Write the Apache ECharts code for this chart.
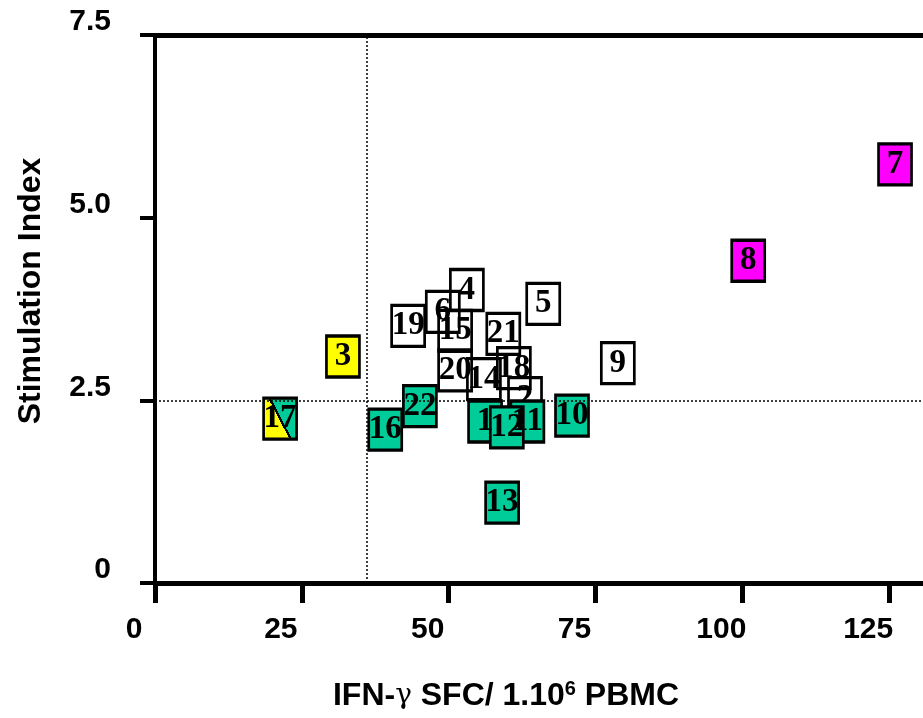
<!DOCTYPE html>
<html>
<head>
<meta charset="utf-8">
<script src="https://cdn.jsdelivr.net/npm/echarts@6/dist/echarts.min.js"></script>
<style>
  html, body { margin: 0; padding: 0; background: #fff; }
  #chart { width: 923px; height: 718px; }
</style>
</head>
<body>
<div id="chart"></div>
<script>
// patient ids, IFN-g spots and stimulation index
var ids   = ['1', '2', '3', '4', '5', '6', '7', '8', '9', '10', '11',
             '12', '13', '14', '15', '16', '17', '18', '19', '20', '21', '22']
var sfc   = [56.2, 63.0, 32.0, 53.1, 66.1, 49.0, 126.0, 101.0, 78.8, 71.0, 63.4,
             59.9, 59.1, 56.0, 51.1, 39.2, 21.3, 61.1, 43.1, 51.1, 59.3, 45.1]
var si    = [2.21, 2.53, 3.10, 4.01, 3.82, 3.71, 5.73, 4.41, 3.01, 2.29, 2.21,
             2.13, 1.10, 2.79, 3.45, 2.10, 2.25, 2.94, 3.52, 2.91, 3.41, 2.42]
var group = ['teal', 'white', 'yellow', 'white', 'white', 'white', 'magenta', 'magenta', 'white', 'teal', 'teal',
             'teal', 'teal', 'white', 'white', 'teal', 'split', 'white', 'white', 'white', 'white', 'teal']

var xTicks = [0, 25, 50, 75, 100, 125]
var yTicks = [0, 2.5, 5.0, 7.5]
var sfcCutoff = 36
var siCutoff = 2.5

var teal = '#00CC99'

function pick (g) {
  var res = []
  for (var i = 0; i < ids.length; i++) {
    if (group[i] === g) res.push({ name: ids[i], value: [sfc[i], si[i]] })
  }
  return res
}

// box 17 is half yellow / half green with a black diagonal
var splitFill = {
  type: 'linear', x: -0.12, y: 0.9, x2: 1.12, y2: 0.1,
  colorStops: [
    { offset: 0, color: '#FFFF00' }, { offset: 0.48, color: '#FFFF00' },
    { offset: 0.48, color: '#000' }, { offset: 0.52, color: '#000' },
    { offset: 0.52, color: teal }, { offset: 1, color: teal }
  ]
}

function boxSeries (name, fill, z) {
  return {
    name: name,
    type: 'scatter',
    symbol: 'rect',
    symbolSize: [33, 41],
    z: z,
    itemStyle: { color: fill, borderColor: '#000', borderWidth: 3, opacity: 1 },
    label: {
      show: true,
      position: 'inside',
      formatter: '{b}',
      color: '#000',
      fontFamily: 'Liberation Serif',
      fontWeight: 'bold',
      fontSize: 33
    },
    emphasis: { disabled: true },
    data: pick(name)
  }
}

var myChart = echarts.init(document.getElementById('chart'))

myChart.setOption({
  animation: false,
  backgroundColor: '#fff',
  // the x axis runs on past the right edge of the picture
  grid: { left: 155, top: 35, height: 548, width: 881, outerBoundsMode: 'none', containLabel: false },
  xAxis: {
    type: 'value',
    min: 0,
    max: 150,
    interval: 25,
    name: '{a|IFN-}{g|γ}{a| SFC/ 1.10}{s|6}{a| PBMC}',
    nameLocation: 'middle',
    nameGap: 96,
    nameTextStyle: {
      padding: [0, 179, 0, 0],
      rich: {
        a: { fontFamily: 'Liberation Sans', fontWeight: 'bold', fontSize: 32, color: '#000' },
        g: { fontFamily: 'DejaVu Serif', fontSize: 28, color: '#000' },
        s: { fontFamily: 'Liberation Sans', fontWeight: 'bold', fontSize: 20, color: '#000', verticalAlign: 'top', padding: [0, 0, 14, 0] }
      }
    },
    axisLine: { onZero: false, lineStyle: { color: '#000', width: 5 } },
    axisTick: { length: 20, lineStyle: { color: '#000', width: 5 } },
    axisLabel: {
      margin: 32,
      padding: [0, 42, 0, 0],
      color: '#000',
      fontFamily: 'Liberation Sans',
      fontWeight: 'bold',
      fontSize: 30,
      customValues: xTicks
    },
    splitLine: { show: false }
  },
  yAxis: {
    type: 'value',
    min: 0,
    max: 7.5,
    interval: 2.5,
    name: 'Stimulation Index',
    nameLocation: 'middle',
    nameGap: 108,
    nameTextStyle: {
      color: '#000',
      fontFamily: 'Liberation Sans',
      fontWeight: 'bold',
      fontSize: 32,
      padding: [0, 0, 0, 36]
    },
    axisLine: { onZero: false, lineStyle: { color: '#000', width: 4 } },
    axisTick: { length: 15, lineStyle: { color: '#000', width: 4 } },
    axisLabel: {
      margin: 44,
      verticalAlign: 'bottom',
      lineHeight: 26,
      color: '#000',
      fontFamily: 'Liberation Sans',
      fontWeight: 'bold',
      fontSize: 30,
      customValues: yTicks,
      formatter: function (v) { return v === 0 ? '0' : v.toFixed(1) }
    },
    splitLine: { show: false }
  },
  series: [
    boxSeries('white', 'rgba(255,255,255,0)', 2),
    boxSeries('teal', teal, 3),
    boxSeries('yellow', '#FFFF00', 3),
    boxSeries('magenta', '#FF00FF', 3),
    boxSeries('split', splitFill, 3),
    {
      // cut-off lines and the top frame
      type: 'scatter',
      data: [],
      z: 10,
      silent: true,
      markLine: {
        silent: true,
        symbol: 'none',
        label: { show: false },
        animation: false,
        data: [
          { yAxis: siCutoff, lineStyle: { color: '#000', width: 1.5, type: [2, 2] } },
          { xAxis: sfcCutoff, lineStyle: { color: '#000', width: 1.5, type: [2, 2] } },
          { yAxis: 7.5, lineStyle: { color: '#000', width: 5, type: 'solid' } }
        ]
      }
    }
  ]
})

window.addEventListener('resize', function () {
  myChart.resize()
})
</script>
</body>
</html>
